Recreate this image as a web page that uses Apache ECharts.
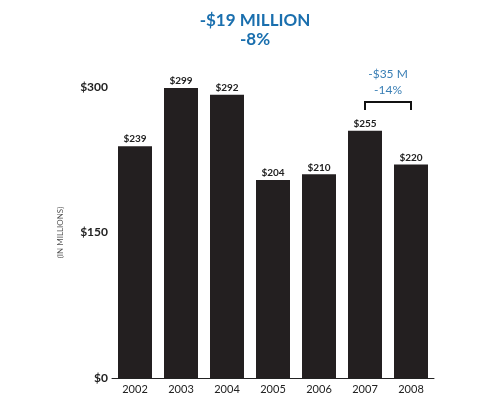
<!DOCTYPE html>
<html><head><meta charset="utf-8">
<script src="https://cdn.jsdelivr.net/npm/echarts@6/dist/echarts.min.js"></script>
<style>html,body{margin:0;background:#fff}#c{width:495px;height:404px}</style>
</head><body><div id="c"></div>
<script>
const years = ['2002', '2003', '2004', '2005', '2006', '2007', '2008']
const revenue = [239, 299, 292, 204, 210, 255, 220]
const yTicks = { min: 0, max: 300, interval: 150 }

const chart = echarts.init(document.getElementById('c'))
const font = 'Lato, "DejaVu Sans", sans-serif'
chart.setOption({
  animation: false,
  title: {
    text: '-$19 MILLION\n-8%', left: 250, top: 6, textAlign: 'center',
    textStyle: { color: '#1a6fae', fontSize: 17, fontWeight: 'bold', lineHeight: 19, fontFamily: font }
  },
  grid: { left: 112, right: 61, top: 87, bottom: 26 },
  xAxis: {
    type: 'category', data: years,
    axisLine: { lineStyle: { color: '#222' } }, axisTick: { show: false },
    axisLabel: { color: '#222', fontSize: 11, margin: 6, fontFamily: font }
  },
  yAxis: {
    type: 'value', ...yTicks,
    name: '(IN MILLIONS)', nameLocation: 'middle', nameGap: 48, nameRotate: 90,
    nameTextStyle: { color: '#555', fontSize: 8, fontFamily: font },
    splitLine: { show: false }, axisLine: { show: false }, axisTick: { show: false },
    axisLabel: { color: '#222', fontSize: 12, fontWeight: 'bold', margin: 4, fontFamily: font, formatter: v => '$' + v }
  },
  series: [{
    type: 'bar', data: revenue, barWidth: 34,
    itemStyle: { color: '#231f20' },
    label: { show: true, position: 'top', distance: 2, color: '#222', fontSize: 10, fontWeight: 'bold', fontFamily: font, formatter: p => '$' + p.value }
  }]
})

// bracket over the last two years
const bx1 = chart.convertToPixel({ seriesIndex: 0 }, [5, 0])[0]
const bx2 = chart.convertToPixel({ seriesIndex: 0 }, [6, 0])[0]
const by = chart.convertToPixel({ seriesIndex: 0 }, [0, 300])[1] + 15
chart.setOption({
  graphic: [
    { type: 'polyline', shape: { points: [[bx1, by + 8], [bx1, by], [bx2, by], [bx2, by + 8]] }, style: { stroke: '#111', lineWidth: 2, fill: null } },
    { type: 'text', x: (bx1 + bx2) / 2, y: by - 36, style: { text: '-$35 M\n-14%', align: 'center', fill: '#3a7fb5', fontSize: 12, lineHeight: 16, fontFamily: font } }
  ]
})
</script></body></html>
